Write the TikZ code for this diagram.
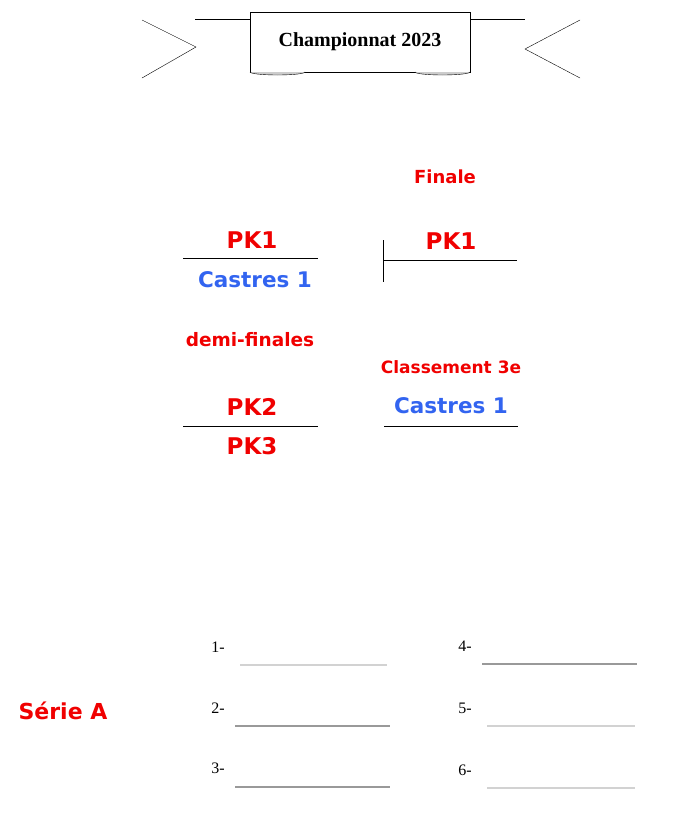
\documentclass[tikz,border=0pt]{standalone}
\usepackage{fontspec}
\setmainfont{DejaVu Sans}
\newfontfamily\serifb{Liberation Serif}
\definecolor{myred}{RGB}{240,0,0}
\definecolor{myblue}{RGB}{50,100,240}
\begin{document}
\begin{tikzpicture}[x=1pt,y=-1pt,
  big/.style={font=\bfseries\fontsize{23}{26}\selectfont},
  cas/.style={font=\bfseries\fontsize{21.5}{24}\selectfont, text=myblue},
  mid/.style={text=myred},
  num/.style={font=\serifb\fontsize{16}{18}\selectfont},
  rl/.style={line width=0.8pt},
  faint/.style={line width=2.5pt, gray!35},
  dark/.style={line width=2.5pt, gray!80}]
\useasboundingbox (0,0) rectangle (685,833);
% banner
\node[draw,fill=white,minimum width=220,minimum height=60,font=\serifb\bfseries\fontsize{20}{22}\selectfont] (ban) at (360,42) {Championnat 2023};
\draw[fill=gray!40] (250,72) arc[start angle=180,end angle=0,x radius=27.5,y radius=3];
\draw[fill=gray!40] (415,72) arc[start angle=180,end angle=0,x radius=27.5,y radius=3];
\draw (195,19) -- (ban.north west|-0,19);
\draw (ban.north east|-0,19) -- (525,19);
\draw (142,20) -- (196,47) -- (142,78);
\draw (580,20) -- (525,49) -- (580,78);
% brackets
\node[big,text=myred] (pk1a) at (252,240) {PK1};
\node[cas] (cas1) at (255,280) {Castres 1};
\draw[rl] (183,258) -- (318,258);
\node[mid,font=\bfseries\fontsize{18}{20}\selectfont] (fin) at (445,177) {Finale};
\node[big,text=myred] (pk1b) at (451,241) {PK1};
\draw[rl] (383,260) -- (517,260);
\draw[rl] (383,240) -- (383,282);
\node[mid,font=\bfseries\fontsize{18.5}{20}\selectfont] (demi) at (250,340) {demi-finales};
\node[mid,font=\bfseries\fontsize{17}{20}\selectfont] (cl) at (451,367) {Classement 3e};
\node[cas] (cas2) at (451,406) {Castres 1};
\draw[rl] (384,426) -- (518,426);
\node[big,text=myred] (pk2) at (252,407) {PK2};
\draw[rl] (183,426) -- (318,426);
\node[big,text=myred] (pk3) at (252,446) {PK3};
% serie A
\node[text=myred,font=\bfseries\fontsize{22}{24}\selectfont] (ser) at (63,711) {Série A};
\node[num] (n1) at (218,647) {1-};
\node[num] (n2) at (218,708) {2-};
\node[num] (n3) at (218,768) {3-};
\node[num] (n4) at (465,646) {4-};
\node[num] (n5) at (465,708) {5-};
\node[num] (n6) at (465,770) {6-};
\draw[faint] (240,665) -- (387,665);
\draw[dark] (235,726) -- (390,726);
\draw[dark] (235,787) -- (390,787);
\draw[dark] (482,664) -- (637,664);
\draw[faint] (487,726) -- (635,726);
\draw[faint] (487,788) -- (635,788);
\end{tikzpicture}
\end{document}
